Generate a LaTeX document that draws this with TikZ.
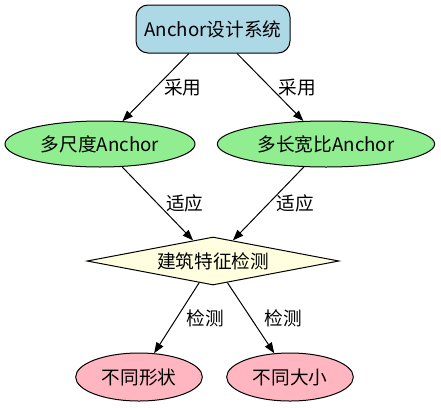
\documentclass[tikz,border=0pt]{standalone}
\usepackage{fontspec}
\setmainfont{Noto Sans CJK SC}
\usepackage{xcolor}
\usetikzlibrary{shapes.geometric}
\usetikzlibrary{arrows.meta}
\definecolor{sysblue}{HTML}{ADD8E6}
\definecolor{anchorgreen}{HTML}{90EE90}
\definecolor{detectyellow}{HTML}{FFFFE0}
\definecolor{resultpink}{HTML}{FFB6C1}

\begin{document}
\begin{tikzpicture}[x=0.75pt,y=-0.75pt,font=\fontsize{14}{16}\selectfont,
        sysbox/.style={draw=black,line width=0.75pt,fill=sysblue,rounded corners=9pt,minimum width=115.5pt,minimum height=36pt,inner sep=0},
        anchorell/.style={draw=black,line width=0.75pt,fill=anchorgreen,ellipse,minimum height=34.5pt,inner sep=0},
        resultell/.style={draw=black,line width=0.75pt,fill=resultpink,ellipse,minimum width=95pt,minimum height=36pt,inner sep=0},
        detectdia/.style={draw=black,line width=0.75pt,fill=detectyellow,diamond,aspect=5.25,minimum width=189pt,minimum height=36pt,inner sep=0},
        link/.style={draw=black,line width=0.75pt,-{Triangle[length=8pt,width=6pt]}},
        lbl/.style={right=6pt,inner sep=0}]
        \useasboundingbox (0,0) rectangle (441,407);
        \node[sysbox] (sys) at (213,29) {Anchor设计系统};
        \node[anchorell,minimum width=142.5pt] (scale) at (100,144) {多尺度Anchor};
        \node[anchorell,minimum width=163pt] (ratio) at (326,144) {多长宽比Anchor};
        \node[detectdia] (detect) at (213,261) {建筑特征检测};
        \node[resultell] (shape) at (139,377) {不同形状};
        \node[resultell] (size) at (290,377) {不同大小};
        % edges with their labels
        \draw[link] (sys) -- node[lbl] {采用} (scale);
        \draw[link] (sys) -- node[lbl] {采用} (ratio);
        \draw[link] (scale) -- node[lbl] {适应} (detect);
        \draw[link] (ratio) -- node[lbl] {适应} (detect);
        \draw[link] (detect) -- node[lbl,right=1pt] {检测} (shape); % label hugs the line here
        \draw[link] (detect) -- node[lbl,right=4pt] {检测} (size);
    \end{tikzpicture}
\end{document}
